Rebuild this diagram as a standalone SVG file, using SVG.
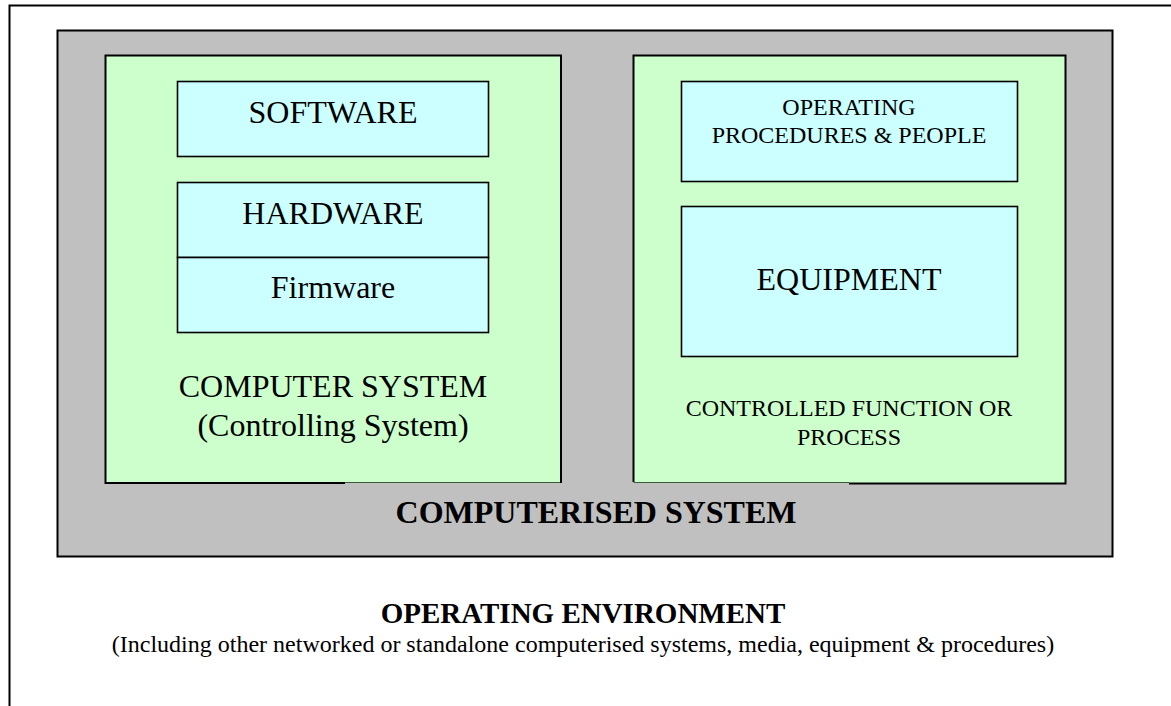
<svg xmlns="http://www.w3.org/2000/svg" width="1171" height="706" viewBox="0 0 1171 706">
  <style>
    .frame { fill: #ffffff; stroke: #000000; stroke-width: 2; }
    .outer { fill: #c0c0c0; stroke: #000000; stroke-width: 2; }
    .panel { fill: #ccffcc; stroke: none; }
    .edge { stroke: #000000; stroke-width: 2; fill: none; }
    .soft { stroke: #3a5a3a; stroke-width: 1; fill: none; }
    .box { fill: #ccffff; stroke: #000000; stroke-width: 1.6; }
    text { font-family: "Liberation Serif", "Times New Roman", serif; fill: #000000; text-anchor: middle; }
    .big { font-size: 32px; }
    .mid { font-size: 24px; }
    .bold { font-weight: bold; }
  </style>

  <!-- operating environment frame (extends past the page edge) -->
  <g id="environment">
    <rect class="frame" x="9.5" y="5.5" width="1200" height="760"/>
    <text class="bold" x="583" y="623" style="font-size:29px">OPERATING ENVIRONMENT</text>
    <text x="583" y="652" style="font-size:24px">(Including other networked or standalone computerised systems, media, equipment &amp; procedures)</text>
  </g>

  <!-- computerised system -->
  <g id="computerised-system">
    <rect class="outer" x="57.5" y="30.5" width="1055" height="526"/>
    <text class="bold" x="596" y="523" style="font-size:32px">COMPUTERISED SYSTEM</text>
  </g>

  <!-- controlling computer system -->
  <g id="computer-system">
    <rect class="panel" x="105" y="55" width="456" height="428"/>
    <path class="edge" d="M345,483 H105.5 V55.5 H561 V483"/>
    <path class="soft" d="M345,482.5 H560"/>
    <text class="big" x="333" y="397">COMPUTER SYSTEM</text>
    <text class="big" x="333" y="436">(Controlling System)</text>
  </g>

  <g id="software">
    <rect class="box" x="177.5" y="81.5" width="311" height="75"/>
    <text class="big" x="333" y="123">SOFTWARE</text>
  </g>

  <g id="hardware">
    <rect class="box" x="177.5" y="182.5" width="311" height="75"/>
    <text class="big" x="333" y="224">HARDWARE</text>
  </g>

  <g id="firmware">
    <rect class="box" x="177.5" y="257.5" width="311" height="75"/>
    <text class="big" x="333" y="298">Firmware</text>
  </g>

  <!-- controlled function or process -->
  <g id="controlled-process">
    <rect class="panel" x="633" y="55" width="433" height="428"/>
    <path class="edge" d="M849,483.5 H1065.5 V55.5 H633.5 V482"/>
    <path class="soft" d="M633.5,482.5 H849"/>
    <text class="mid" x="849" y="416">CONTROLLED FUNCTION OR</text>
    <text class="mid" x="849" y="445">PROCESS</text>
  </g>

  <g id="procedures-people">
    <rect class="box" x="681.5" y="81.5" width="336" height="100"/>
    <text class="mid" x="849" y="115">OPERATING</text>
    <text class="mid" x="849" y="143">PROCEDURES &amp; PEOPLE</text>
  </g>

  <g id="equipment">
    <rect class="box" x="681.5" y="206.5" width="336" height="150"/>
    <text class="big" x="849" y="290">EQUIPMENT</text>
  </g>

  <!-- no connectors in this diagram -->
  <g id="connectors"/>
</svg>
